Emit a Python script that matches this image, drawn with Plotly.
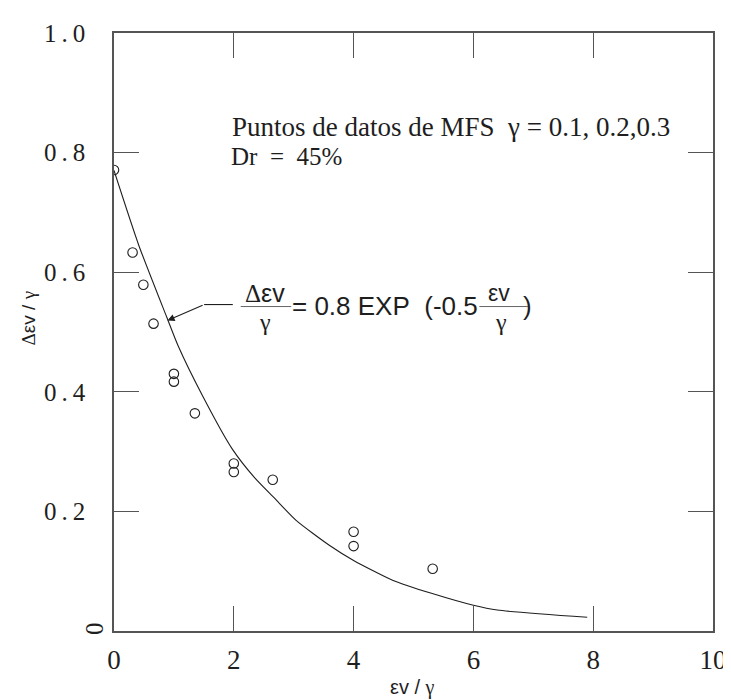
import plotly.graph_objects as go

# ---- data ----
point_x = [0.0, 0.31, 0.49, 0.66, 1.0, 1.0, 1.35, 2.0, 2.0, 2.65, 4.0, 4.0, 5.32]
point_y = [0.771, 0.633, 0.579, 0.514, 0.430, 0.417, 0.364, 0.280, 0.266, 0.253, 0.166, 0.142, 0.104]

curve_x = [0.0, 0.41, 0.88, 1.07, 1.48, 1.97, 2.35, 2.68, 3.04, 3.6, 4.0, 4.65, 5.3, 6.0, 6.4, 7.9]
curve_y = [0.770, 0.646, 0.525, 0.477, 0.393, 0.305, 0.256, 0.222, 0.185, 0.143, 0.118, 0.085, 0.063, 0.043, 0.035, 0.023]

x_tickvals = [0, 2, 4, 6, 8, 10]
x_ticktext = ["0", "2", "4", "6", "8", "10"]
y_tickvals = [0.2, 0.4, 0.6, 0.8, 1.0]
y_ticktext = ["0\u2009.\u20092", "0\u2009.\u20094", "0\u2009.\u20096", "0\u2009.\u20098", "1\u2009.\u20090"]

W, H = 731, 700
L, R, T, B = 106, 20, 24, 77
PW, PH = W - L - R, H - T - B


def px2x(px):
    return (px - L) / PW * 10.0


def py2y(py):
    return (T + PH - py) / PH * 1.0


SERIF = "Liberation Serif, Times New Roman, serif"
SANS = "Liberation Sans, Arial, sans-serif"
INK = "#1e1e1e"
FRAME = "#555555"
NB = "\u00a0"
GAMMA = "<span style='font-family:Liberation Serif'>γ</span>"

fig = go.Figure()
fig.add_trace(go.Scatter(x=curve_x, y=curve_y, mode="lines",
                         line=dict(color=INK, width=1.1, shape="spline", smoothing=0.6),
                         hoverinfo="skip", showlegend=False))
fig.add_trace(go.Scatter(x=point_x, y=point_y, mode="markers",
                         marker=dict(symbol="circle-open", size=9.5,
                                     color=INK, line=dict(width=1.1, color=INK)),
                         showlegend=False))

axis_common = dict(showgrid=False, zeroline=False, showline=True, linecolor=FRAME,
                   linewidth=1.6, mirror="ticks", ticks="inside", ticklen=25,
                   tickwidth=1.3, tickcolor=FRAME)

fig.update_xaxes(range=[0, 10], tickvals=x_tickvals, ticktext=x_ticktext,
                 tickfont=dict(family=SERIF, size=27, color=INK),
                 ticklabelstandoff=4, **axis_common)
fig.update_yaxes(range=[0, 1.0], tickvals=y_tickvals, ticktext=y_ticktext,
                 tickfont=dict(family=SERIF, size=25, color=INK),
                 ticklabelstandoff=22, **axis_common)

ann = []
# rotated "0" at origin of y axis
ann.append(dict(xref="paper", yref="y", x=0, y=0, xshift=-20, yshift=2,
                xanchor="center", yanchor="middle", text="0",
                textangle=-90, showarrow=False,
                font=dict(family=SERIF, size=25, color=INK)))
# axis titles
ann.append(dict(xref="paper", yref="paper", x=(407 - L) / PW, y=py2y(680),
                xanchor="center", yanchor="middle", text="εv / " + GAMMA,
                showarrow=False, font=dict(family=SANS, size=20, color=INK)))
ann.append(dict(xref="paper", yref="paper", x=(20 - L) / PW, y=py2y(310),
                xanchor="center", yanchor="middle",
                text="<span style='font-family:Liberation Serif'>Δ</span>εv / " + GAMMA,
                textangle=-90, showarrow=False,
                font=dict(family=SANS, size=19, color=INK)))
# notes
ann.append(dict(xref="x", yref="y", x=px2x(670), y=py2y(118), xanchor="right",
                yanchor="middle",
                text="Puntos de datos de MFS" + NB + NB + "γ = 0.1, 0.2,0.3",
                showarrow=False, font=dict(family=SERIF, size=27, color=INK)))
ann.append(dict(xref="x", yref="y", x=px2x(222), y=py2y(148), xanchor="left",
                yanchor="middle", text="Dr" + NB + " =" + NB + " 45%",
                showarrow=False, font=dict(family=SERIF, size=25, color=INK)))
# equation
ann.append(dict(xref="x", yref="y", x=px2x(259), y=py2y(284), xanchor="center",
                yanchor="middle",
                text="<span style='font-family:Liberation Serif'>Δ</span>εv",
                showarrow=False, font=dict(family=SANS, size=25, color=INK)))
ann.append(dict(xref="x", yref="y", x=px2x(259), y=py2y(313), xanchor="center",
                yanchor="middle", text="γ",
                showarrow=False, font=dict(family=SERIF, size=24, color=INK)))
ann.append(dict(xref="x", yref="y", x=px2x(284), y=py2y(297), xanchor="left",
                yanchor="middle", text="= 0.8 EXP" + NB + " (-0.5", showarrow=False,
                font=dict(family=SANS, size=26, color=INK)))
ann.append(dict(xref="x", yref="y", x=px2x(495), y=py2y(284), xanchor="center",
                yanchor="middle", text="εv",
                showarrow=False, font=dict(family=SANS, size=23, color=INK)))
ann.append(dict(xref="x", yref="y", x=px2x(497), y=py2y(313), xanchor="center",
                yanchor="middle", text="γ",
                showarrow=False, font=dict(family=SERIF, size=24, color=INK)))
ann.append(dict(xref="x", yref="y", x=px2x(517), y=py2y(297), xanchor="left",
                yanchor="middle", text=")", showarrow=False,
                font=dict(family=SANS, size=26, color=INK)))
# arrow
ann.append(dict(xref="x", yref="y", x=px2x(160), y=py2y(312), axref="x", ayref="y",
                ax=px2x(197), ay=py2y(296), text="", showarrow=True,
                arrowhead=2, arrowsize=1.3, arrowwidth=1.1, arrowcolor=INK))
fig.update_layout(annotations=ann)

shapes = [
    dict(type="line", xref="x", yref="y", x0=px2x(197), y0=py2y(296),
         x1=px2x(226), y1=py2y(296), line=dict(color=INK, width=1.1)),
    dict(type="line", xref="x", yref="y", x0=px2x(234), y0=py2y(298),
         x1=px2x(285), y1=py2y(298), line=dict(color="#666666", width=1)),
    dict(type="line", xref="x", yref="y", x0=px2x(475), y0=py2y(298),
         x1=px2x(524), y1=py2y(298), line=dict(color="#666666", width=1)),
]
fig.update_layout(shapes=shapes)

fig.update_layout(width=W, height=H, margin=dict(l=L, r=R, t=T, b=B),
                  plot_bgcolor="white", paper_bgcolor="white",
                  font=dict(family=SERIF, color=INK))

fig.write_html("out.html")
